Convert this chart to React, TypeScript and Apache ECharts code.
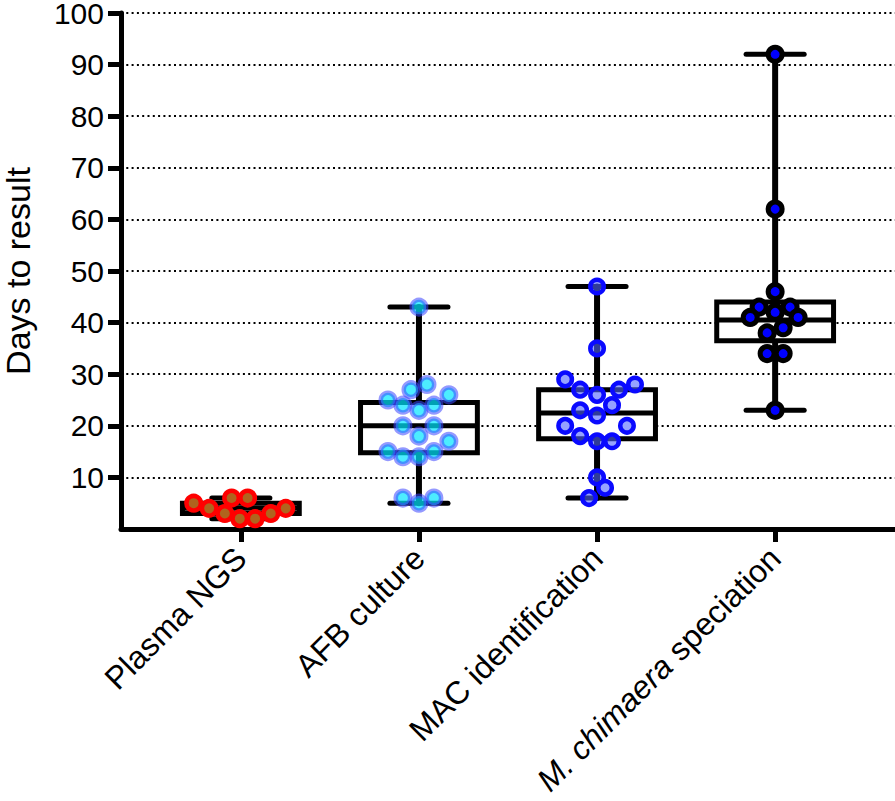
import React, { useEffect, useRef } from "react";
import * as echarts from "echarts";

// ---- data ----
const categories = ["Plasma NGS", "AFB culture", "MAC identification", "M. chimaera speciation"];

// box stats: [min, q1, median, q3, max]
const boxStats = [
  [2, 3, 4, 5, 6],
  [5, 14.8, 20, 24.5, 43],
  [6, 17.5, 22.5, 27, 47],
  [23, 36.5, 40.5, 44, 92],
];

// individual points (days) and horizontal jitter (category units)
const plasmaValues = [5, 4, 3, 6, 6, 2, 2, 3, 4];
const plasmaJitter = [-0.265, -0.178, -0.09, -0.052, 0.038, -0.006, 0.08, 0.168, 0.252];

const afbValues = [43, 27, 28, 25, 26, 24, 24, 23, 20, 20, 18, 17, 15, 15, 14, 14, 6, 6, 5];
const afbJitter = [0, -0.045, 0.045, -0.174, 0.168, -0.09, 0.084, 0, -0.09, 0.084, 0, 0.168, -0.174, 0.084, -0.09, 0, -0.09, 0.084, 0];

const macValues = [47, 35, 29, 28, 27, 27, 26, 24, 23, 22, 20, 20, 18, 17, 17, 10, 8, 6];
const macJitter = [0, 0, -0.179, 0.213, -0.095, 0.123, 0, 0.084, -0.095, 0, -0.179, 0.168, -0.095, 0, 0.084, 0, 0.045, -0.045];

const chimValues = [92, 62, 46, 43, 43, 42, 41, 41, 39, 38, 34, 34, 23];
const chimJitter = [0, 0, 0, -0.09, 0.084, 0, -0.14, 0.129, 0.045, -0.045, -0.045, 0.045, 0];

const yTicks = [10, 20, 30, 40, 50, 60, 70, 80, 90, 100];

const FONT = '"Liberation Sans", Arial, Helvetica, sans-serif';

function pts(idx: number, vals: number[], jit: number[]) {
  return vals.map((v, i) => [idx + jit[i], v]);
}

export default function App() {
  const ref = useRef<HTMLDivElement>(null);
  useEffect(() => {
    if (!ref.current) return;
    const chart = echarts.init(ref.current, undefined, { renderer: "svg" });
    const boxData = boxStats.map((s, i) => [i, ...s]);
    const option: any = {
      animation: false,
      backgroundColor: "#ffffff",
      grid: { left: 121, right: 0, top: 13, bottom: 272, containLabel: false, outerBoundsMode: "none" },
      xAxis: {
        type: "value",
        min: -0.673,
        max: 3.673,
        axisLine: { show: true, onZero: false, lineStyle: { color: "#000", width: 5 } },
        axisTick: { show: true, customValues: [0, 1, 2, 3], length: 13, lineStyle: { color: "#000", width: 5 } },
        axisLabel: {
          show: true,
          customValues: [0, 1, 2, 3],
          rotate: 45,
          margin: 24,
          color: "#000",
          fontSize: 32,
          fontFamily: FONT,
          formatter: (v: number) => {
            const c = categories[Math.round(v)];
            if (c === "M. chimaera speciation") return "{i|M. chimaera} speciation";
            return c;
          },
          rich: {
            i: { fontStyle: "italic", fontSize: 32, fontFamily: FONT, color: "#000" },
          },
        },
        splitLine: { show: false },
      },
      yAxis: {
        type: "value",
        min: 0,
        max: 100,
        interval: 10,
        name: "Days to result",
        nameLocation: "middle",
        nameGap: 88,
        nameTextStyle: { fontSize: 34, lineHeight: 30, fontFamily: FONT, color: "#000" },
        axisLine: { show: true, onZero: false, lineStyle: { color: "#000", width: 5 } },
        axisTick: { show: true, customValues: yTicks, length: 13, lineStyle: { color: "#000", width: 5 } },
        axisLabel: {
          customValues: yTicks,
          margin: 17,
          color: "#000",
          fontSize: 30,
          lineHeight: 24,
          fontFamily: FONT,
        },
        splitLine: { show: true, lineStyle: { color: "#000", width: 2, type: [2, 3.3] } },
      },
      series: [
        {
          type: "custom",
          data: boxData,
          encode: { x: 0, y: [1, 2, 3, 4, 5] },
          z: 2,
          renderItem: (params: any, api: any) => {
            const idx = api.value(0);
            const x = api.coord([idx, 0])[0];
            const yMin = api.coord([idx, api.value(1)])[1];
            const yQ1 = api.coord([idx, api.value(2)])[1];
            const yMed = api.coord([idx, api.value(3)])[1];
            const yQ3 = api.coord([idx, api.value(4)])[1];
            const yMax = api.coord([idx, api.value(5)])[1];
            const unit = api.size([1, 0])[0];
            const bw = unit * 0.328;
            const cw = unit * 0.163;
            const ls = { stroke: "#000", lineWidth: 5, lineCap: "round" };
            return {
              type: "group",
              children: [
                { type: "line", shape: { x1: x, y1: yMin, x2: x, y2: yQ1 }, style: { ...ls, lineWidth: 6 } },
                { type: "line", shape: { x1: x, y1: yQ3, x2: x, y2: yMax }, style: { ...ls, lineWidth: 6 } },
                { type: "line", shape: { x1: x - cw, y1: yMin, x2: x + cw, y2: yMin }, style: ls },
                { type: "line", shape: { x1: x - cw, y1: yMax, x2: x + cw, y2: yMax }, style: ls },
                {
                  type: "rect",
                  shape: { x: x - bw, y: yQ3, width: 2 * bw, height: yQ1 - yQ3 },
                  style: { fill: "#fff", stroke: "#000", lineWidth: 5 },
                },
                { type: "line", shape: { x1: x - bw, y1: yMed, x2: x + bw, y2: yMed }, style: { stroke: "#000", lineWidth: 5 } },
              ],
            };
          },
        },
        {
          type: "scatter",
          z: 3,
          data: pts(0, plasmaValues, plasmaJitter),
          symbol: "circle",
          symbolSize: 14.5,
          itemStyle: { color: "#b0641e", borderColor: "#ff0000", borderWidth: 4.5, opacity: 1 },
        },
        {
          type: "scatter",
          z: 3,
          data: pts(1, afbValues, afbJitter),
          symbol: "circle",
          symbolSize: 14.5,
          itemStyle: { color: "rgba(0,230,255,0.7)", borderColor: "rgba(60,70,255,0.55)", borderWidth: 4.5, opacity: 1 },
        },
        {
          type: "scatter",
          z: 3,
          data: pts(2, macValues, macJitter),
          symbol: "circle",
          symbolSize: 13.5,
          itemStyle: { color: "rgba(80,100,255,0.6)", borderColor: "#0a0aff", borderWidth: 4.5, opacity: 1 },
        },
        {
          type: "scatter",
          z: 3,
          data: pts(3, chimValues, chimJitter),
          symbol: "circle",
          symbolSize: 14,
          itemStyle: { color: "#0000ff", borderColor: "#000", borderWidth: 5, opacity: 1 },
        },
      ],
    };
    chart.setOption(option);
    return () => chart.dispose();
  }, []);
  return (
    <div
      ref={ref}
      style={{ position: "fixed", left: 0, top: 0, width: 895, height: 801, background: "#fff" }}
    />
  );
}
